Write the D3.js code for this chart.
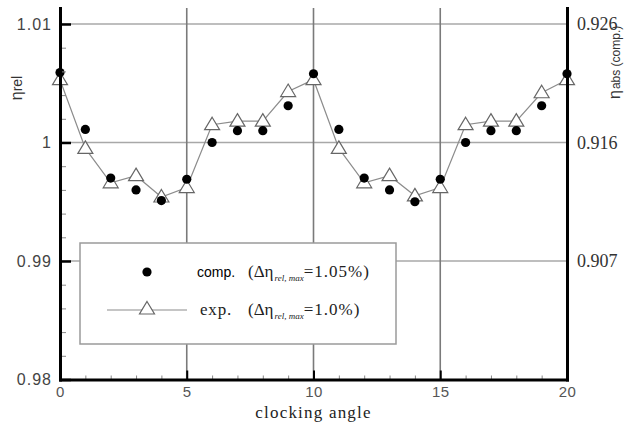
<!DOCTYPE html>
<html>
<head>
<meta charset="utf-8">
<script src="https://cdn.jsdelivr.net/npm/d3@7"></script>
<style>
  html, body { margin: 0; padding: 0; background: #fff; }
  svg { display: block; }
</style>
</head>
<body>
<svg id="chart" width="641" height="426"></svg>
<script>
// Clocking angle positions
const angles = [0, 1, 2, 3, 4, 5, 6, 7, 8, 9, 10, 11, 12, 13, 14, 15, 16, 17, 18, 19, 20];
// Relative efficiency, computation
const compValues = [1.0059, 1.0011, 0.9970, 0.9960, 0.9951, 0.9969, 1.0000, 1.0010, 1.0010, 1.0031, 1.0058,
                    1.0011, 0.9970, 0.9960, 0.9950, 0.9969, 1.0000, 1.0010, 1.0010, 1.0031, 1.0058];
// Relative efficiency, experiment
const expValues = [1.0053, 0.9995, 0.9966, 0.9972, 0.9954, 0.9962, 1.0015, 1.0018, 1.0018, 1.0043, 1.0053,
                   0.9995, 0.9966, 0.9972, 0.9955, 0.9962, 1.0015, 1.0018, 1.0018, 1.0042, 1.0053];
// Axis ticks
const xMajorTicks = [0, 5, 10, 15, 20];
const yMajorTicks = [0.98, 0.99, 1.00, 1.01];
const yMinorTicks = [0.982, 0.984, 0.986, 0.988, 0.992, 0.994, 0.996, 0.998, 1.002, 1.004, 1.006, 1.008, 1.010];
const rightTickAt = [0.99, 1.00, 1.01];
const rightTickLabels = ["0.907", "0.916", "0.926"];
const legendLabels = ["comp.", "exp."];
const legendSpread = ["1.05%", "1.0%"];

const svg = d3.select("#chart");
const plotLeft = 60, plotRight = 567, plotTop = 8, plotBottom = 379.5;

const x = d3.scaleLinear().domain([0, 20]).range([plotLeft, plotRight]);
const y = d3.scaleLinear().domain([0.98, 1.01135]).range([plotBottom, plotTop]);

// Grid lines
const grid = svg.append("g");
grid.selectAll("line.h").data([0.99, 1.00, 1.01]).join("line")
  .attr("x1", plotLeft).attr("x2", plotRight)
  .attr("y1", d => y(d)).attr("y2", d => y(d))
  .attr("stroke", "#a8a8a8").attr("stroke-width", 1.6);
grid.selectAll("line.v").data([5, 10, 15]).join("line")
  .attr("x1", d => x(d)).attr("x2", d => x(d))
  .attr("y1", plotTop).attr("y2", plotBottom)
  .attr("stroke", "#7a7a7a").attr("stroke-width", 1.6);

// Legend box (covers grid)
const legend = svg.append("g");
legend.append("rect")
  .attr("x", 80).attr("y", 243).attr("width", 316).attr("height", 101)
  .attr("fill", "#fff").attr("stroke", "#9a9a9a").attr("stroke-width", 1.5);

// Experimental curve
const line = d3.line().x((d, i) => x(angles[i])).y(d => y(d));
svg.append("path").datum(expValues)
  .attr("d", line).attr("fill", "none")
  .attr("stroke", "#8c8c8c").attr("stroke-width", 1.2);

const triPath = "M0,-7.5L7.5,5L-7.5,5Z";
svg.append("g").selectAll("path").data(expValues).join("path")
  .attr("d", triPath)
  .attr("transform", (d, i) => `translate(${x(angles[i])},${y(d)})`)
  .attr("fill", "#fff").attr("stroke", "#666").attr("stroke-width", 1.2);

// Computed points
svg.append("g").selectAll("circle").data(compValues).join("circle")
  .attr("cx", (d, i) => x(angles[i])).attr("cy", d => y(d))
  .attr("r", 4.6).attr("fill", "#000");

// Axes
const tickFont = "Liberation Sans, Arial, sans-serif";
function styleDomain(g) {
  g.select(".domain").attr("stroke", "#000").attr("stroke-width", 3).attr("stroke-linecap", "square");
}

const yMinor = svg.append("g").attr("transform", `translate(${plotLeft},0)`)
  .call(d3.axisLeft(y).tickValues(yMinorTicks).tickSizeInner(-6).tickSizeOuter(0).tickFormat(""));
yMinor.select(".domain").remove();
yMinor.selectAll(".tick line").attr("stroke", "#888").attr("stroke-width", 1);

const xMinor = svg.append("g").attr("transform", `translate(0,${plotBottom})`)
  .call(d3.axisBottom(x).tickValues(angles.filter(a => a % 5 !== 0)).tickSizeInner(-4).tickSizeOuter(0).tickFormat(""));
xMinor.select(".domain").remove();
xMinor.selectAll(".tick line").attr("stroke", "#888").attr("stroke-width", 1);

const yAxis = svg.append("g").attr("transform", `translate(${plotLeft},0)`)
  .call(d3.axisLeft(y).tickValues(yMajorTicks).tickSizeInner(-11).tickSizeOuter(0).tickPadding(8)
        .tickFormat(d => d === 1 ? "1" : d3.format(".2f")(d)));
styleDomain(yAxis);
yAxis.selectAll(".tick line").attr("stroke", "#000").attr("stroke-width", 2.5);
yAxis.selectAll(".tick text").attr("font-family", tickFont).attr("font-size", 16)
  .attr("letter-spacing", 1).attr("fill", "#444");

const xAxis = svg.append("g").attr("transform", `translate(0,${plotBottom})`)
  .call(d3.axisBottom(x).tickValues(xMajorTicks).tickSizeInner(-9).tickSizeOuter(0).tickPadding(7));
styleDomain(xAxis);
xAxis.selectAll(".tick line").attr("stroke", "#000").attr("stroke-width", 2);
xAxis.selectAll(".tick text").attr("font-family", tickFont).attr("font-size", 15)
  .attr("letter-spacing", 0.5).attr("fill", "#555");

const yRight = svg.append("g").attr("transform", `translate(${plotRight},0)`)
  .call(d3.axisRight(y).tickValues(rightTickAt).tickSize(0).tickPadding(10)
        .tickFormat((d, i) => rightTickLabels[i]));
styleDomain(yRight);
yRight.selectAll(".tick text").attr("font-family", "Liberation Serif, Times New Roman, serif")
  .attr("font-size", 18).attr("fill", "#333");

// Axis titles
svg.append("text")
  .attr("transform", `translate(${x(10)},418)`)
  .attr("text-anchor", "middle")
  .attr("font-family", "Liberation Serif, Times New Roman, serif")
  .attr("font-size", 17).attr("letter-spacing", 1.2).attr("fill", "#222")
  .text("clocking angle");

const yTitle = svg.append("text")
  .attr("transform", "translate(22,88) rotate(-90)")
  .attr("text-anchor", "middle")
  .attr("font-family", tickFont).attr("fill", "#333");
yTitle.append("tspan").attr("font-size", 16).text("η");
yTitle.append("tspan").attr("font-size", 14).text("rel");

const yRTitle = svg.append("text")
  .attr("transform", "translate(620,99) rotate(-90)")
  .attr("text-anchor", "start")
  .attr("font-family", tickFont).attr("fill", "#333");
yRTitle.append("tspan").attr("font-size", 16).text("η");
yRTitle.append("tspan").attr("font-size", 12).attr("dx", 1).text("abs (comp.)");

// Legend entries
const serif = "Liberation Serif, Times New Roman, serif";
legend.append("circle").attr("cx", 147).attr("cy", 272).attr("r", 4.6).attr("fill", "#000");
legend.append("line").attr("x1", 107).attr("x2", 187).attr("y1", 310).attr("y2", 310)
  .attr("stroke", "#8c8c8c").attr("stroke-width", 1.2);
legend.append("path").attr("d", triPath).attr("transform", "translate(147,309)")
  .attr("fill", "#fff").attr("stroke", "#666").attr("stroke-width", 1.2);

legend.append("text").attr("x", 197).attr("y", 277)
  .attr("font-family", tickFont).attr("font-size", 14).attr("fill", "#000").text(legendLabels[0]);
legend.append("text").attr("x", 200).attr("y", 315)
  .attr("font-family", serif).attr("font-size", 17).attr("letter-spacing", 0.8).attr("fill", "#222").text(legendLabels[1]);

[277, 315].forEach((yy, i) => {
  const t = legend.append("text").attr("x", 248).attr("y", yy)
    .attr("font-family", serif).attr("font-size", 17).attr("fill", "#222");
  t.append("tspan").text("(Δη");
  t.append("tspan").attr("font-size", 9).attr("font-style", "italic").attr("dy", 4).attr("dx", 1).text("rel, max");
  t.append("tspan").attr("dy", -4).attr("letter-spacing", 1).text("=" + legendSpread[i] + ")");
});
</script>
</body>
</html>
